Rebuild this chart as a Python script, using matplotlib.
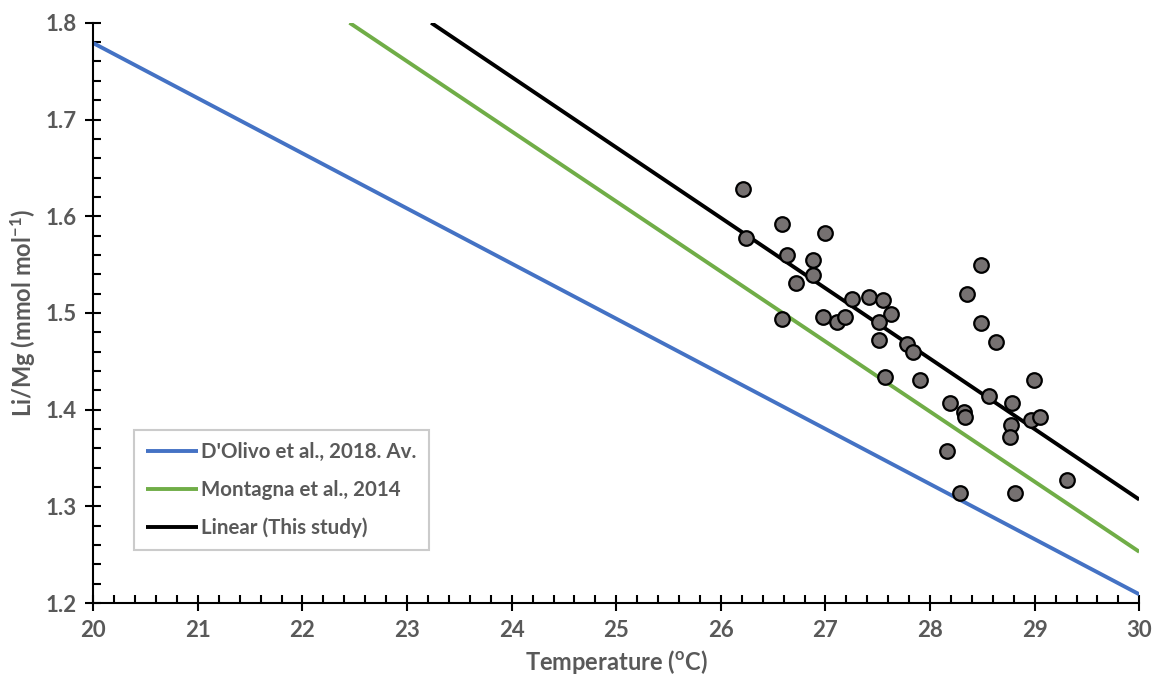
import numpy as np
import matplotlib
matplotlib.use("Agg")
import matplotlib.pyplot as plt
from matplotlib.ticker import MultipleLocator

plt.rcParams['font.family'] = ['Lato', 'DejaVu Sans']
plt.rcParams['font.weight'] = 'bold'
plt.rcParams['mathtext.fontset'] = 'custom'
plt.rcParams['mathtext.rm'] = 'Lato:bold'
plt.rcParams['mathtext.default'] = 'rm'

# calibration lines (end points, temperature in degC, Li/Mg in mmol/mol)
dolivo_t = [20.0, 30.0]
dolivo_li = [1.779, 1.209]
montagna_t = [22.45, 30.0]
montagna_li = [1.800, 1.253]
linear_t = [23.23, 30.0]
linear_li = [1.800, 1.307]

# coral samples
sample_t = [26.21, 26.24, 26.58, 26.63, 27.00, 26.88, 26.88, 26.72, 26.58, 26.98,
            27.11, 27.19, 27.25, 27.42, 27.55, 27.63, 27.51, 27.51, 27.78, 27.84,
            27.57, 27.90, 28.49, 28.35, 28.49, 28.63, 28.99, 28.56, 28.78, 28.19,
            28.32, 28.33, 28.96, 29.05, 28.77, 28.76, 28.16, 29.31, 28.29, 28.81]
sample_li = [1.628, 1.577, 1.592, 1.560, 1.583, 1.555, 1.539, 1.531, 1.494, 1.496,
             1.491, 1.496, 1.514, 1.516, 1.513, 1.499, 1.491, 1.472, 1.468, 1.460,
             1.434, 1.431, 1.550, 1.520, 1.490, 1.470, 1.431, 1.414, 1.407, 1.407,
             1.398, 1.392, 1.389, 1.392, 1.384, 1.372, 1.357, 1.327, 1.314, 1.314]

grey = '#595959'

fig = plt.figure(figsize=(11.59, 6.81), dpi=100)
ax = fig.add_axes([0.0805, 0.1145, 0.9025, 0.852])

ax.plot(dolivo_t, dolivo_li, color='#4472C4', lw=2.8, label="D'Olivo et al., 2018. Av.",
        solid_capstyle='butt', zorder=2)
ax.plot(montagna_t, montagna_li, color='#70AD47', lw=2.8, label='Montagna et al., 2014',
        solid_capstyle='butt', zorder=2)
ax.plot(linear_t, linear_li, color='black', lw=2.8, label='Linear (This study)',
        solid_capstyle='butt', zorder=2)
ax.scatter(sample_t, sample_li, s=110, facecolor='#767171', edgecolor='black',
           linewidth=1.6, zorder=3)

ax.set_xlim(20, 30)
ax.set_ylim(1.2, 1.8)
ax.xaxis.set_major_locator(MultipleLocator(1))
ax.xaxis.set_minor_locator(MultipleLocator(0.2))
ax.yaxis.set_major_locator(MultipleLocator(0.1))
ax.yaxis.set_minor_locator(MultipleLocator(0.02))
ax.yaxis.set_major_formatter(lambda v, p: f'{v:.1f}')

for side in ('top', 'right'):
    ax.spines[side].set_visible(False)
for side in ('left', 'bottom'):
    ax.spines[side].set_linewidth(1.5)
    ax.spines[side].set_color('black')

ax.tick_params(which='major', direction='inout', length=12, width=1.5,
               labelsize=16, labelcolor=grey, pad=6)
ax.tick_params(which='minor', direction='in', length=6, width=1.5)

ax.set_xlabel('Temperature ($^{\\mathrm{o}}$C)', fontsize=17, fontweight='bold',
              color=grey, labelpad=5)
ax.set_ylabel('Li/Mg (mmol mol$^{-1}$)', fontsize=17, fontweight='bold',
              color=grey, labelpad=5)

leg = ax.legend(loc='lower left', bbox_to_anchor=(0.039, 0.091), borderaxespad=0,
                fontsize=14.8, frameon=True, fancybox=False, handlelength=2.5,
                handletextpad=0.15, labelspacing=0.85, borderpad=0.6)
leg.get_frame().set_edgecolor('#BFBFBF')
leg.get_frame().set_linewidth(1.5)
for txt in leg.get_texts():
    txt.set_color(grey)

fig.savefig('out.png', dpi=100)
